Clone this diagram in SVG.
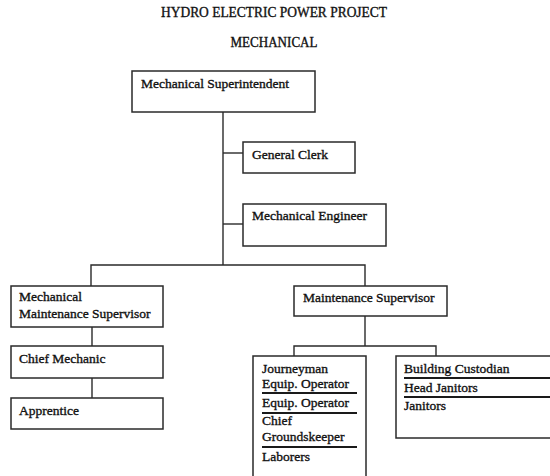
<svg xmlns="http://www.w3.org/2000/svg" width="550" height="476" viewBox="0 0 550 476">
  <style>
    .box { fill: #fff; stroke: #2a2a2a; stroke-width: 1.5; }
    .wire { fill: none; stroke: #2a2a2a; stroke-width: 1.4; }
    .rule { stroke: #1a1a1a; stroke-width: 2; }
    text { font-family: "Liberation Serif", "Times New Roman", serif; font-size: 13.5px; fill: #111; stroke: #111; stroke-width: 0.35; }
    .title { text-anchor: middle; font-size: 14px; }
  </style>
  <rect width="550" height="476" fill="#fff"/>

  <text class="title" x="274" y="17" textLength="226" lengthAdjust="spacingAndGlyphs">HYDRO ELECTRIC POWER PROJECT</text>
  <text class="title" x="274" y="47" textLength="87" lengthAdjust="spacingAndGlyphs">MECHANICAL</text>

  <g id="connectors">
    <path class="wire" d="M223 112 V265"/>
    <path class="wire" d="M223 153 H243"/>
    <path class="wire" d="M223 224 H243"/>
    <path class="wire" d="M91 286 V265 H365 V286"/>
    <path class="wire" d="M92 327 V346"/>
    <path class="wire" d="M92 378 V398"/>
    <path class="wire" d="M365 316 V346"/>
    <path class="wire" d="M294 356 V346 H436 V356"/>
  </g>

  <g id="mechanical-superintendent">
    <rect class="box" x="132" y="71" width="183" height="41"/>
    <text x="141" y="88">Mechanical Superintendent</text>
  </g>

  <g id="general-clerk">
    <rect class="box" x="243" y="142" width="112" height="31"/>
    <text x="252" y="159">General Clerk</text>
  </g>

  <g id="mechanical-engineer">
    <rect class="box" x="243" y="204" width="143" height="42"/>
    <text x="252" y="220">Mechanical Engineer</text>
  </g>

  <g id="mechanical-maintenance-supervisor">
    <rect class="box" x="11" y="286" width="152" height="41"/>
    <text x="19" y="301">Mechanical</text>
    <text x="19" y="318">Maintenance Supervisor</text>
  </g>

  <g id="chief-mechanic">
    <rect class="box" x="11" y="346" width="152" height="32"/>
    <text x="19" y="363">Chief Mechanic</text>
  </g>

  <g id="apprentice">
    <rect class="box" x="11" y="398" width="152" height="31"/>
    <text x="19" y="415">Apprentice</text>
  </g>

  <g id="maintenance-supervisor">
    <rect class="box" x="294" y="286" width="153" height="30"/>
    <text x="303" y="302">Maintenance Supervisor</text>
  </g>

  <g id="grounds-crew">
    <rect class="box" x="253" y="356" width="113" height="130"/>
    <text x="262" y="373">Journeyman</text>
    <text x="262" y="388">Equip. Operator</text>
    <line class="rule" x1="262" y1="393" x2="357" y2="393"/>
    <text x="262" y="407">Equip. Operator</text>
    <line class="rule" x1="262" y1="413" x2="357" y2="413"/>
    <text x="262" y="425">Chief</text>
    <text x="262" y="441">Groundskeeper</text>
    <line class="rule" x1="262" y1="447" x2="357" y2="447"/>
    <text x="262" y="461">Laborers</text>
  </g>

  <g id="building-custodial">
    <rect class="box" x="396" y="356" width="160" height="82"/>
    <text x="404" y="373">Building Custodian</text>
    <line class="rule" x1="404" y1="378" x2="550" y2="378"/>
    <text x="404" y="392">Head Janitors</text>
    <line class="rule" x1="404" y1="397" x2="550" y2="397"/>
    <text x="404" y="410">Janitors</text>
  </g>
</svg>
